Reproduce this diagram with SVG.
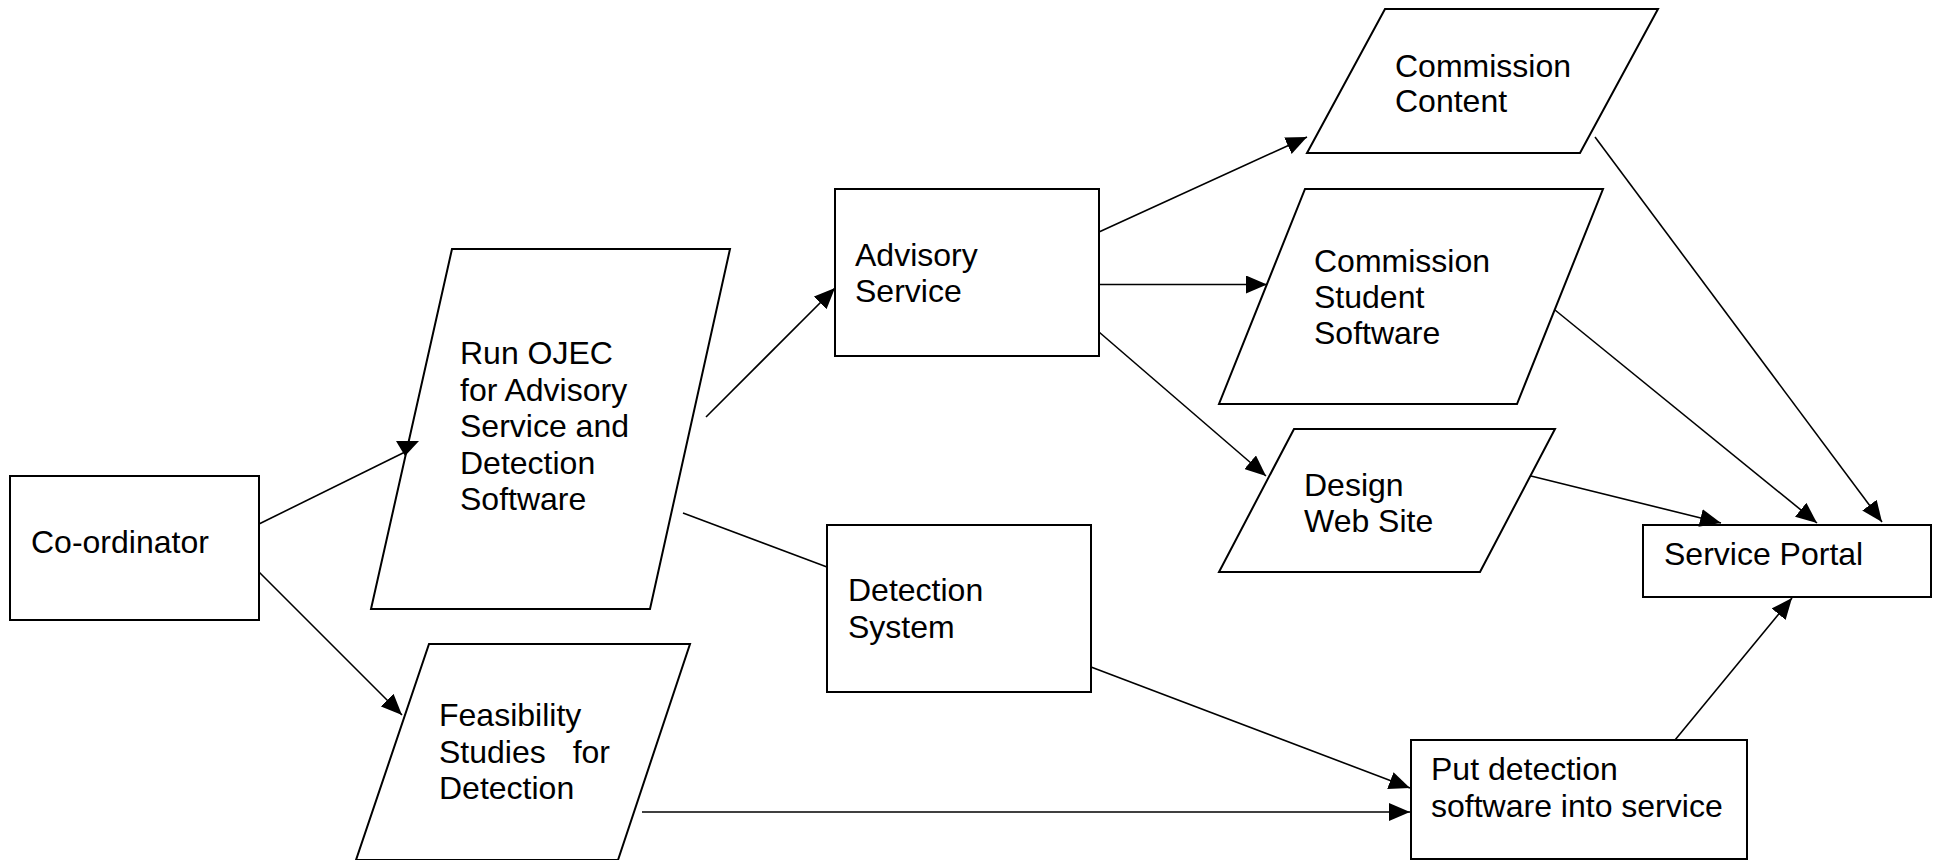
<svg xmlns="http://www.w3.org/2000/svg" width="1940" height="860" viewBox="0 0 1940 860">
<style>
.n{fill:#fff;stroke:#000;stroke-width:2}
.t{font-family:"Liberation Sans",Arial,sans-serif;font-size:32px;fill:#000}
.c{stroke:#000;stroke-width:1.6;fill:none}
.a{marker-end:url(#ah)}
</style>
<defs>
<marker id="ah" markerUnits="userSpaceOnUse" markerWidth="21" markerHeight="18" refX="21" refY="9" orient="auto">
<path d="M0,0 L21,9 L0,18 z" fill="#000"/>
</marker>
</defs>
<rect width="1940" height="860" fill="#fff"/>
<g id="coordinator">
<rect class="n" x="10" y="476" width="249" height="144"/>
<text class="t" x="31" y="553">Co-ordinator</text>
</g>
<g id="run-ojec">
<polygon class="n" points="452,249 730,249 650,609 371,609"/>
<text class="t"><tspan x="460" y="364">Run OJEC</tspan><tspan x="460" y="400.5">for Advisory</tspan><tspan x="460" y="437">Service and</tspan><tspan x="460" y="473.5">Detection</tspan><tspan x="460" y="510">Software</tspan></text>
</g>
<g id="feasibility">
<polygon class="n" points="429,644 690,644 618,860 356,860"/>
<text class="t"><tspan x="439" y="726">Feasibility</tspan><tspan x="439" y="762.5">Studies <tspan dx="18">for</tspan></tspan><tspan x="439" y="799">Detection</tspan></text>
</g>
<g id="advisory-service">
<rect class="n" x="835" y="189" width="264" height="167"/>
<text class="t"><tspan x="855" y="266">Advisory</tspan><tspan x="855" y="302">Service</tspan></text>
</g>
<g id="detection-system">
<rect class="n" x="827" y="525" width="264" height="167"/>
<text class="t"><tspan x="848" y="601">Detection</tspan><tspan x="848" y="638">System</tspan></text>
</g>
<g id="commission-content">
<polygon class="n" points="1385,9 1658,9 1580,153 1307,153"/>
<text class="t"><tspan x="1395" y="77">Commission</tspan><tspan x="1395" y="112">Content</tspan></text>
</g>
<g id="commission-student-software">
<polygon class="n" points="1305,189 1603,189 1517,404 1219,404"/>
<text class="t"><tspan x="1314" y="272">Commission</tspan><tspan x="1314" y="308">Student</tspan><tspan x="1314" y="344">Software</tspan></text>
</g>
<g id="design-web-site">
<polygon class="n" points="1294,429 1555,429 1480,572 1219,572"/>
<text class="t"><tspan x="1304" y="496">Design</tspan><tspan x="1304" y="532">Web Site</tspan></text>
</g>
<g id="service-portal">
<rect class="n" x="1643" y="525" width="288" height="72"/>
<text class="t" x="1664" y="565">Service Portal</text>
</g>
<g id="put-detection">
<rect class="n" x="1411" y="740" width="336" height="119"/>
<text class="t"><tspan x="1431" y="780">Put detection</tspan><tspan x="1431" y="817">software into service</tspan></text>
</g>
<g id="connectors">
<line class="c" x1="259" y1="524" x2="405" y2="452"/>
<polygon points="396,441 419,441 405,456" fill="#000"/>
<line class="c a" x1="259" y1="572" x2="402" y2="715"/>
<line class="c a" x1="706" y1="417" x2="835" y2="288"/>
<line class="c" x1="683" y1="513" x2="827" y2="567"/>
<line class="c a" x1="1099" y1="232" x2="1307" y2="137"/>
<line class="c a" x1="1099" y1="284.5" x2="1267" y2="284.5"/>
<line class="c a" x1="1099" y1="332" x2="1266" y2="476"/>
<line class="c a" x1="1595" y1="137" x2="1882" y2="522"/>
<line class="c a" x1="1555" y1="310" x2="1817" y2="523"/>
<line class="c a" x1="1531" y1="476" x2="1721" y2="523"/>
<line class="c a" x1="1675" y1="740" x2="1792" y2="598"/>
<line class="c a" x1="1091" y1="667" x2="1410" y2="788"/>
<line class="c a" x1="642" y1="812" x2="1410" y2="812"/>
</g>
</svg>
